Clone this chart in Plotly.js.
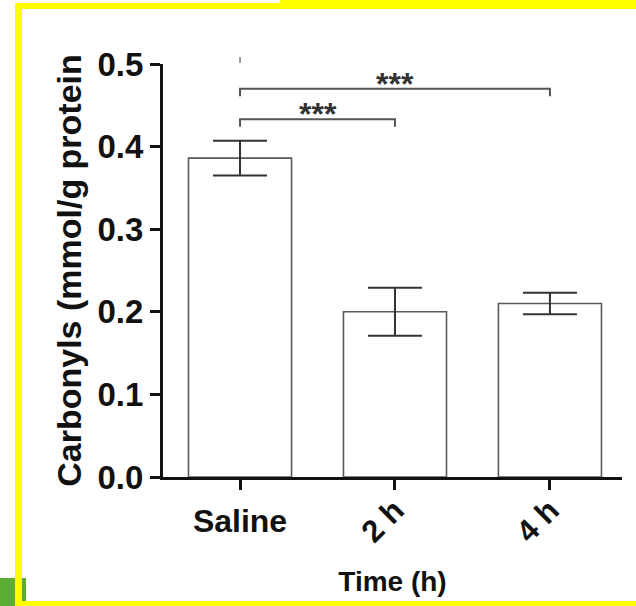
<!DOCTYPE html>
<html>
<head>
<meta charset="utf-8">
<script src="https://cdn.plot.ly/plotly-3.0.1.min.js"></script>
<style>
  html, body { margin: 0; padding: 0; background: #fff; }
  #wrap { position: relative; width: 636px; height: 606px; overflow: hidden; }
  #chart { position: absolute; left: 0; top: 0; width: 636px; height: 606px; }
  .deco { position: absolute; pointer-events: none; }
  .yel { background: #ffff00; }
  .grn { background: #5aad32; }
</style>
</head>
<body>
<div id="wrap">
  <div id="chart"></div>
  <div class="deco yel" style="left:15px;top:3px;width:265px;height:6px;"></div>
  <div class="deco yel" style="left:280px;top:0px;width:356px;height:9px;"></div>
  <div class="deco yel" style="left:15px;top:3px;width:7px;height:603px;"></div>
  <div class="deco yel" style="left:15px;top:601px;width:621px;height:5px;"></div>
  <div class="deco grn" style="left:0px;top:578px;width:15px;height:28px;"></div>
  <div class="deco grn" style="left:22px;top:578px;width:4px;height:23px;"></div>
</div>
<script>
// ---- data ----
const categories = ['Saline', '2 h', '4 h'];
const means = [0.386, 0.200, 0.210];
const sems = [0.021, 0.029, 0.013];
const compFrom = [0, 0];
const compTo = [1, 2];
const compY = [0.433, 0.470];
const compLabel = ['***', '***'];
const yTickVals = [0, 0.1, 0.2, 0.3, 0.4, 0.5];
const yTitle = 'Carbonyls (mmol/g protein';
const xTitle = 'Time (h)';

// ---- build ----
const xs = categories.map((c, i) => i);
const FONT = 'Liberation Sans, Arial, Helvetica, sans-serif';

const traces = [
  {
    type: 'bar',
    x: xs,
    y: means,
    width: 0.665,
    marker: { color: '#ffffff', line: { color: '#5a5a5a', width: 1.6 } },
    error_y: { type: 'data', array: sems, visible: true, color: '#333333', thickness: 2, width: 27 },
    hoverinfo: 'skip',
    showlegend: false
  },
  {
    type: 'scatter',
    mode: 'markers',
    x: xs.slice(1),
    y: xs.slice(1).map(() => null),
    xaxis: 'x2',
    yaxis: 'y',
    marker: { opacity: 0 },
    hoverinfo: 'skip',
    showlegend: false
  }
];

const tick = 0.009;
const shapes = [];
const annotations = [];
for (let i = 0; i < compFrom.length; i++) {
  const a = compFrom[i], b = compTo[i], y = compY[i];
  shapes.push({
    type: 'path', xref: 'x', yref: 'y',
    path: `M ${a},${y - tick} L ${a},${y} L ${b},${y} L ${b},${y - tick}`,
    line: { color: '#555555', width: 2 }
  });
  annotations.push({
    x: (a + b) / 2, y: y, xref: 'x', yref: 'y',
    text: compLabel[i], showarrow: false,
    yanchor: 'bottom', yshift: -15,
    font: { family: FONT, size: 32, color: '#333333', weight: 'bold' }
  });
}
// partial bracket tick remnant cropped at the top
shapes.push({
  type: 'line', xref: 'paper', yref: 'paper',
  x0: (0 + 0.497) / 2.962, x1: (0 + 0.497) / 2.962, y0: 1.003, y1: 1.017,
  line: { color: '#777777', width: 1.5 }
});

const xRange = [-0.497, 2.465];
const layout = {
  width: 636, height: 606,
  margin: { l: 163, r: 14, t: 64, b: 129 },
  paper_bgcolor: '#ffffff', plot_bgcolor: '#ffffff',
  showlegend: false,
  xaxis: {
    range: xRange, fixedrange: true,
    showline: true, linecolor: '#111111', linewidth: 3,
    ticks: 'outside', ticklen: 10, tickwidth: 3, tickcolor: '#111111',
    tickvals: xs, ticktext: [categories[0], '', ''], tickangle: 0,
    tickfont: { family: FONT, size: 32, color: '#111111', weight: 'bold' },
    ticklabelstandoff: 4,
    showgrid: false, zeroline: false,
    title: { text: xTitle, font: { family: FONT, size: 28, color: '#111111', weight: 'bold' }, standoff: 33 }
  },
  xaxis2: {
    overlaying: 'x', anchor: 'y', side: 'bottom',
    range: xRange, fixedrange: true,
    showline: false, ticks: '',
    tickvals: xs.slice(1), ticktext: categories.slice(1), tickangle: -45,
    tickfont: { family: FONT, size: 31, color: '#111111', weight: 'bold' },
    ticklabelstandoff: 8,
    showgrid: false, zeroline: false
  },
  yaxis: {
    range: [0, 0.5], fixedrange: true,
    showline: true, linecolor: '#111111', linewidth: 3,
    ticks: 'outside', ticklen: 10, tickwidth: 3, tickcolor: '#111111',
    tickvals: yTickVals, tickformat: '.1f',
    tickfont: { family: FONT, size: 33, color: '#111111', weight: 'bold' },
    showgrid: false, zeroline: false,
    title: { text: yTitle, font: { family: FONT, size: 34, color: '#111111', weight: 'bold' }, standoff: 6 }
  },
  shapes: shapes,
  annotations: annotations
};

Plotly.newPlot('chart', traces, layout, { displayModeBar: false, staticPlot: true });
</script>
</body>
</html>
